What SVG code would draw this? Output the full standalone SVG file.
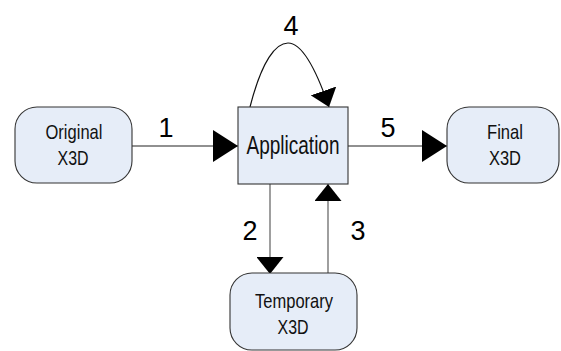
<svg xmlns="http://www.w3.org/2000/svg" width="561" height="351" viewBox="0 0 561 351">
  <style>
    .box { fill: #e6edf8; stroke: #333; stroke-width: 1.1; }
    .lbl { font-family: "Liberation Sans", Arial, sans-serif; font-size: 21px; fill: #111; text-anchor: middle; }
    .big { font-family: "Liberation Sans", Arial, sans-serif; font-size: 26px; fill: #111; text-anchor: middle; }
    .num { font-family: "Liberation Sans", Arial, sans-serif; font-size: 27px; fill: #000; text-anchor: middle; }
    .wire { fill: none; stroke: #6b6b6b; stroke-width: 1.3; }
    .loop { fill: none; stroke: #111; stroke-width: 1.2; }
  </style>
  <defs>
    <marker id="headH" markerUnits="userSpaceOnUse" markerWidth="25" markerHeight="32" refX="25" refY="16" orient="auto" viewBox="0 0 25 32">
      <path d="M0,0 L25,16 L0,32 Z" fill="#000"/>
    </marker>
    <marker id="headV" markerUnits="userSpaceOnUse" markerWidth="17" markerHeight="27" refX="17" refY="13.5" orient="auto" viewBox="0 0 17 27">
      <path d="M0,0 L17,13.5 L0,27 Z" fill="#000"/>
    </marker>
  </defs>

  <g id="connectors">
    <path class="wire" d="M132,146 L238,146" marker-end="url(#headH)"/>
    <path class="loop" d="M250,107 C262,60 276,43 288,43 C303,43 318,75 329,107" marker-end="url(#headV)"/>
    <path class="wire" d="M348,146 L447,146" marker-end="url(#headH)"/>
    <path class="wire" d="M270,184 L270,274" marker-end="url(#headV)"/>
    <path class="wire" d="M328,273 L328,184" marker-end="url(#headV)"/>
    <text class="num" x="166" y="137">1</text>
    <text class="num" x="250" y="240">2</text>
    <text class="num" x="358" y="240">3</text>
    <text class="num" x="291" y="35">4</text>
    <text class="num" x="388" y="137">5</text>
  </g>

  <g id="original">
    <rect class="box" x="15" y="107" width="117" height="76" rx="22" ry="22"/>
    <text class="lbl" x="74" y="139" textLength="57" lengthAdjust="spacingAndGlyphs">Original</text>
    <text class="lbl" x="73" y="165" textLength="31" lengthAdjust="spacingAndGlyphs">X3D</text>
  </g>

  <g id="application">
    <rect class="box" x="238" y="107" width="110" height="77"/>
    <text class="big" x="293" y="154" textLength="93" lengthAdjust="spacingAndGlyphs">Application</text>
  </g>

  <g id="final">
    <rect class="box" x="447" y="107" width="112" height="76" rx="22" ry="22"/>
    <text class="lbl" x="505" y="139" textLength="36" lengthAdjust="spacingAndGlyphs">Final</text>
    <text class="lbl" x="505" y="165" textLength="32" lengthAdjust="spacingAndGlyphs">X3D</text>
  </g>

  <g id="temporary">
    <rect class="box" x="230" y="273" width="127" height="77" rx="22" ry="22"/>
    <text class="lbl" x="294" y="308" textLength="78" lengthAdjust="spacingAndGlyphs">Temporary</text>
    <text class="lbl" x="293" y="334" textLength="31" lengthAdjust="spacingAndGlyphs">X3D</text>
  </g>
</svg>
